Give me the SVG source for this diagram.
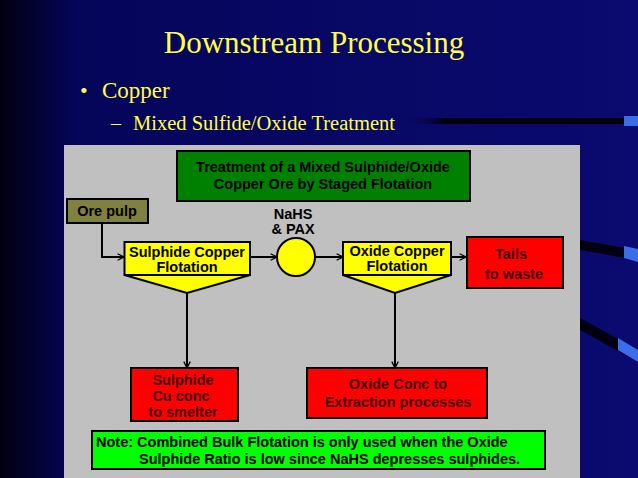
<svg xmlns="http://www.w3.org/2000/svg" width="638" height="478" viewBox="0 0 638 478">
<defs>
<linearGradient id="bg" x1="0" y1="0" x2="1" y2="0">
<stop offset="0" stop-color="#000010"/><stop offset="0.12" stop-color="#05055a"/><stop offset="1" stop-color="#0a0a70"/>
</linearGradient>
<linearGradient id="bar" x1="0" y1="0" x2="1" y2="0">
<stop offset="0" stop-color="#0a0a70" stop-opacity="0"/><stop offset="0.2" stop-color="#000010"/><stop offset="1" stop-color="#000010"/>
</linearGradient>
<marker id="ar" viewBox="0 0 10 10" refX="9" refY="5" markerWidth="8" markerHeight="8" orient="auto" markerUnits="userSpaceOnUse">
<path d="M1,1 L9,5 L1,9" fill="none" stroke="#000" stroke-width="1.6"/>
</marker>
<style>
.b{stroke:#000;stroke-width:2}
.t{font-family:"Liberation Sans",Arial,sans-serif;font-weight:bold;font-size:14.5px;text-anchor:middle}
.r{fill:#400000}
.l{stroke:#000;stroke-width:2;fill:none}
</style>
</defs>
<rect width="638" height="478" fill="url(#bg)"/>
<rect x="400" y="118" width="225" height="6" fill="url(#bar)"/>
<rect x="624" y="116" width="14" height="10" fill="#3a6ee8"/>
<path d="M580,240 L625,248 L638,250 L638,262 L625,258 L580,250Z" fill="#000010"/>
<path d="M624,246 L638,249 L638,262 L624,258Z" fill="#3a6ee8"/>
<path d="M580,318 L620,340 L638,352 L638,362 L620,352 L580,330Z" fill="#000010"/>
<path d="M618,338 L638,350 L638,362 L618,350Z" fill="#3a6ee8"/>
<text x="314" y="53" font-family="Liberation Serif,serif" font-size="31" fill="#ffff40" text-anchor="middle">Downstream Processing</text>
<text x="80" y="98" font-family="Liberation Serif,serif" font-size="22" fill="#ffff40">•</text>
<text x="102" y="98" font-family="Liberation Serif,serif" font-size="23" fill="#ffff40">Copper</text>
<text x="111" y="130" font-family="Liberation Serif,serif" font-size="20" fill="#ffff40">–</text>
<text x="133" y="130" font-family="Liberation Serif,serif" font-size="20.5" fill="#ffff40">Mixed Sulfide/Oxide Treatment</text>
<rect x="64" y="145" width="516" height="333" fill="#c0c0c0"/>
<g id="title"><rect class="b" x="177" y="151" width="293" height="50" fill="#008000"/>
<text class="t" x="323" y="172">Treatment of a Mixed Sulphide/Oxide</text><text class="t" x="323" y="189">Copper Ore by Staged Flotation</text></g>
<g id="ore"><rect class="b" x="67" y="199" width="81" height="24" fill="#808040"/><text class="t" x="107" y="216">Ore pulp</text></g>
<g id="sulph"><path class="b" d="M124.5,242 H250 V275 H124.5Z M124.5,275 L187,293 L250,275" fill="#ffff00"/>
<text class="t" x="187" y="257">Sulphide Copper</text><text class="t" x="187" y="272">Flotation</text></g>
<g id="reag"><circle class="b" cx="296" cy="257" r="19" fill="#ffff00"/><text class="t" x="293" y="219">NaHS</text><text class="t" x="293" y="234">&amp; PAX</text></g>
<g id="oxide"><path class="b" d="M343,242 H451 V275 H343Z M343,275 L395,293 L451,275" fill="#ffff00"/>
<text class="t" x="397" y="256">Oxide Copper</text><text class="t" x="397" y="271">Flotation</text></g>
<g id="tails"><rect class="b" x="467" y="237" width="96" height="51" fill="#ff0000"/><text class="t r" x="511" y="259">Tails</text><text class="t r" x="514" y="279">to waste</text></g>
<g id="sconc"><rect class="b" x="131" y="368" width="107" height="53" fill="#ff0000"/><text class="t r" x="183" y="385">Sulphide</text><text class="t r" x="181" y="401">Cu conc</text><text class="t r" x="183" y="417">to smelter</text></g>
<g id="oconc"><rect class="b" x="307" y="368" width="180" height="50" fill="#ff0000"/><text class="t r" x="398" y="389">Oxide Conc to</text><text class="t r" x="398" y="407">Extraction processes</text></g>
<g id="note"><rect class="b" x="92" y="431" width="453" height="38" fill="#00ff00"/>
<text class="t" x="96" y="447" style="text-anchor:start">Note: Combined Bulk Flotation is only used when the Oxide</text>
<text class="t" x="139" y="464" style="text-anchor:start">Sulphide Ratio is low since NaHS depresses sulphides.</text></g>
<g id="connectors">
<path class="l" d="M102,223 V257 H124" marker-end="url(#ar)"/>
<path class="l" d="M250,257 H277" marker-end="url(#ar)"/>
<path class="l" d="M315,257 H343" marker-end="url(#ar)"/>
<path class="l" d="M451,257 H466" marker-end="url(#ar)"/>
<path class="l" d="M187,293 V368" marker-end="url(#ar)"/>
<path class="l" d="M395,293 V368" marker-end="url(#ar)"/>
</g>
</svg>
